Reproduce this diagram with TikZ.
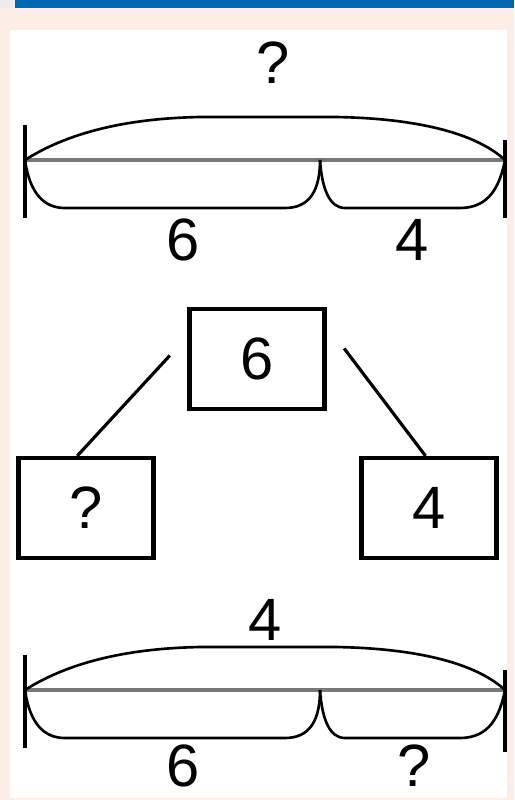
\documentclass[tikz,border=0pt]{standalone}
\usepackage{fontspec}
\setmainfont{Liberation Sans}
\usepackage{xcolor}
\definecolor{barblue}{RGB}{0,102,178}
\definecolor{edgepeach}{RGB}{252,238,230}
\definecolor{linegray}{RGB}{120,120,120}
\usetikzlibrary{positioning}
\tikzset{
  numbox/.style={draw, line width=2.4pt, minimum width=2.7cm, minimum height=2.0cm,
                 font=\fontsize{34}{38}\selectfont, inner sep=0pt},
  numlabel/.style={font=\fontsize{34}{38}\selectfont, inner sep=0pt},
  brace/.style={line width=1.5pt},
  wholeline/.style={line width=2.6pt, linegray},
  endtick/.style={line width=1.8pt},
}
\begin{document}
\begin{tikzpicture}[x=0.02cm, y=-0.02cm]
\useasboundingbox (0,0) rectangle (514,800);
% Background and top bar
\fill[edgepeach] (0,0) rectangle (514,800);
\fill[white] (10,30) rectangle (507,798);
\fill[black!8] (0,0) rectangle (15,8);
\fill[barblue] (15,0) rectangle (514,8);

% Top bar model: whole unknown
\begin{scope}
\coordinate (ta) at (25,160);
\coordinate (tm) at (320,160);
\coordinate (tb) at (505,160);
\draw[wholeline] (ta) -- (tb);
\draw[endtick] (25,125) -- (25,218);
\draw[endtick] (505,140) -- (505,218);
\draw[brace] (ta) .. controls (80,125) and (150,118) .. (200,117) -- (335,117)
  .. controls (400,118) and (470,128) .. (tb);
\draw[brace] (ta) .. controls (30,195) and (45,208) .. (65,208) -- (285,208)
  .. controls (310,208) and (320,190) .. (tm);
\draw[brace] (tm) .. controls (322,190) and (330,208) .. (345,208) -- (460,208)
  .. controls (490,208) and (500,185) .. (tb);
\node[numlabel] (twhole) at (273,63) {?};
\node[numlabel] (tleft) at (183,240) {6};
\node[numlabel] (tright) at (412,240) {4};
\end{scope}

% Middle: number bond
\node[numbox] (bondtop) at (257,359) {6};
\node[numbox] (bondleft) at (86,508) {?};
\node[numbox] (bondright) at (429,508) {4};
\draw[line width=1.8pt] ([xshift=-10pt,yshift=2pt]bondtop.west) -- ([xshift=-5pt]bondleft.north);
\draw[line width=1.8pt] ([xshift=10pt,yshift=6pt]bondtop.east) -- ([xshift=-2pt]bondright.north);

% Bottom bar model: one part unknown
\begin{scope}[yshift=-530*0.02cm]
\coordinate (ba) at (25,160);
\coordinate (bm) at (320,160);
\coordinate (bb) at (505,160);
\draw[wholeline] (ba) -- (bb);
\draw[endtick] (25,125) -- (25,218);
\draw[endtick] (505,140) -- (505,222);
\draw[brace] (ba) .. controls (80,125) and (150,118) .. (200,117) -- (335,117)
  .. controls (400,118) and (470,128) .. (bb);
\draw[brace] (ba) .. controls (30,195) and (45,208) .. (65,208) -- (285,208)
  .. controls (310,208) and (320,190) .. (bm);
\draw[brace] (bm) .. controls (322,190) and (330,208) .. (345,208) -- (460,208)
  .. controls (490,208) and (500,185) .. (bb);
\node[numlabel] (bwhole) at (265,90) {4};
\node[numlabel] (bleft) at (183,236) {6};
\node[numlabel] (bright) at (414,236) {?};
\end{scope}
\end{tikzpicture}
\end{document}
